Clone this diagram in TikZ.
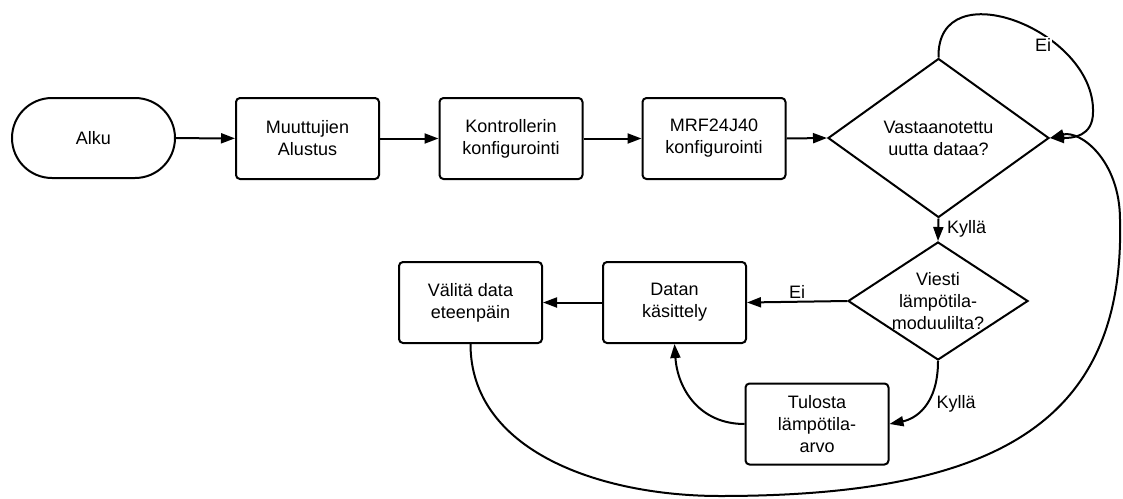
\documentclass[tikz,border=0pt]{standalone}
\usepackage{fontspec}
\setmainfont{Liberation Sans}
\usetikzlibrary{shapes.geometric,arrows.meta}

\begin{document}
\begin{tikzpicture}[x=1pt,y=-1pt,
  every node/.style={font=\fontsize{18}{22}\selectfont},
  flow/.style={line width=2pt, -{Triangle[length=14pt,width=10pt]}},
  stepbox/.style={draw, line width=2pt, rounded corners=4pt,
    minimum width=143pt, minimum height=81pt, align=center, inner sep=0pt},
  terminal/.style={draw, line width=2pt, rounded corners=40pt,
    minimum width=163pt, minimum height=80pt, inner sep=0pt},
  decision/.style={draw, diamond, line width=2pt, align=center, inner sep=0pt},
  lbl/.style={inner sep=1pt}
]
\useasboundingbox (0,0) rectangle (1123,498);

% process chain along the top
\node[terminal] (alku) at (93.5,138) {Alku};
\node[stepbox] (muut) at (307.5,138.5) {Muuttujien\\Alustus};
\node[stepbox] (kont) at (511,138.5) {Kontrollerin\\konfigurointi};
\node[stepbox] (mrf) at (714,138.5) {MRF24J40\\konfigurointi};
\node[decision, minimum width=221pt, minimum height=159pt] (vast) at (938.5,138)
  {Vastaanotettu\\uutta dataa?};

% message handling
\node[decision, minimum width=180pt, minimum height=118pt,
  label={[align=center,inner sep=0pt]center:{Viesti\\lämpötila-\\moduulilta?}}]
  (viesti) at (938,301) {};
\node[stepbox] (datan) at (674.5,302.5) {Datan\\käsittely};
\node[stepbox] (valita) at (470.5,302.5) {Välitä data\\eteenpäin};
\node[stepbox] (tulosta) at (817,424) {Tulosta\\lämpötila-\\arvo};

% waypoints of the loops
\coordinate (waitrim) at (1093,112);
\coordinate (low) at (720,496);
\coordinate (rim) at (1120,220);

% connectors
\draw[flow] (alku) -- (muut);
\draw[flow] (muut) -- (kont);
\draw[flow] (kont) -- (mrf);
\draw[flow] (mrf.east) -- (vast.west);
\draw[flow] (vast.north) .. controls +(-2,-88) and +(2,-82) .. (waitrim)
  .. controls +(0,25) and +(22,0) .. (vast.east);
\node[lbl, fill=white] (eiwait) at (1043,45) {Ei};
\draw[flow] (vast.south) -- (viesti.north);
\node[lbl, anchor=west] (kylla1) at (946,229) {Kyllä};
\draw[flow] (viesti.west) -- (datan.east);
\node[lbl] (ei2) at (797,292) {Ei};
\draw[flow] (datan.west) -- (valita.east);
\draw[flow] (viesti.south) .. controls +(0,45) and +(25,-5) .. (tulosta.east);
\node[lbl] (kylla2) at (956,404) {Kyllä};
\draw[flow] (tulosta.west) .. controls +(-45,0) and +(3,45) .. (datan.south);
\draw[flow] (valita.south) .. controls +(0,107) and +(-120,0) .. (low)
  .. controls +(280,0) and +(5,200) .. (rim)
  .. controls +(0,-60) and +(30,-8) .. (vast.east);
\end{tikzpicture}
\end{document}
